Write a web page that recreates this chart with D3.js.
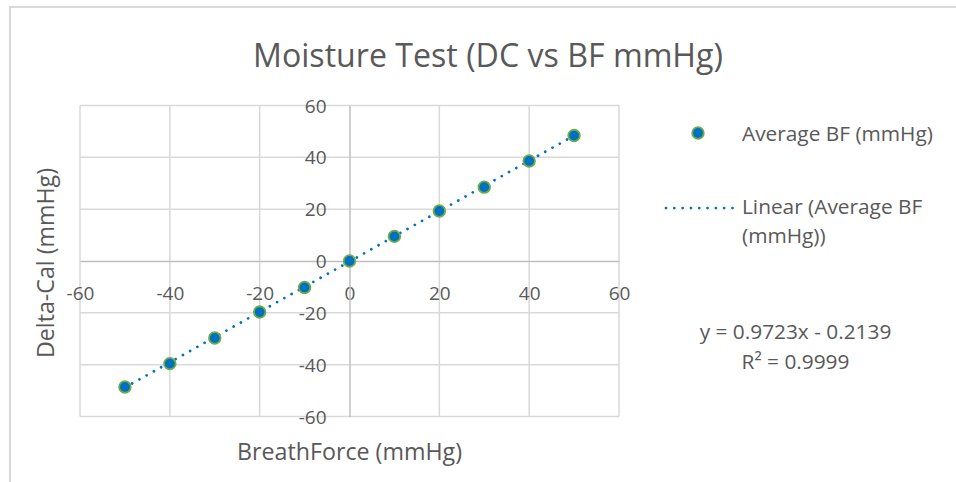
<!DOCTYPE html>
<html>
<head>
<meta charset="utf-8">
<script src="https://cdn.jsdelivr.net/npm/d3@7"></script>
<style>
  html, body { margin: 0; padding: 0; background: #fff; }
  svg { display: block; font-family: "Open Sans", sans-serif; }
</style>
</head>
<body>
<svg id="chart" width="956" height="482"></svg>
<script>
// Breath force readings (mmHg) and the matching delta-cal values
const breathForce = [-50, -40, -30, -20, -10, 0, 10, 20, 30, 40, 50];
const deltaCal    = [-48.6, -39.6, -29.7, -19.7, -10.2, 0.0, 9.5, 19.3, 28.5, 38.6, 48.4];

// Axis ticks
const xTicks = [-60, -40, -20, 0, 20, 40, 60];
const yTicks = [-60, -40, -20, 0, 20, 40, 60];

// Linear trend line coefficients
const trendSlope = 0.9723;
const trendIntercept = -0.2139;
const trendR2 = 0.9999;

const titleText = "Moisture Test (DC vs BF mmHg)";
const xTitle = "BreathForce (mmHg)";
const yTitle = "Delta-Cal (mmHg)";
const seriesName = "Average BF (mmHg)";
const trendNameLines = ["Linear (Average BF", "(mmHg))"];

const textColor = "#595959";
const gridColor = "#d9d9d9";
const axisColor = "#bfbfbf";
const markerFill = "#0070C0";
const markerStroke = "#70AD47";
const trendColor = "#0070C0";

const svg = d3.select("#chart");

// Scale a text element's font size so it spans a given width
function fitWidth(sel, width) {
  const node = sel.node();
  const base = parseFloat(sel.attr("font-size"));
  const w = node.getComputedTextLength();
  sel.attr("font-size", (base * width / w).toFixed(2));
  return sel;
}

// chart frame
svg.append("rect")
  .attr("x", 10).attr("y", 7)
  .attr("width", 1000).attr("height", 600)
  .attr("fill", "#fff")
  .attr("stroke", gridColor).attr("stroke-width", 2);

const x = d3.scaleLinear().domain([-60, 60]).range([80, 619]);
const y = d3.scaleLinear().domain([-60, 60]).range([416.5, 105.5]);

// gridlines
const grid = svg.append("g");
grid.selectAll("line.v").data(xTicks.filter(t => t !== 0)).join("line")
  .attr("x1", d => x(d)).attr("x2", d => x(d))
  .attr("y1", y(60)).attr("y2", y(-60))
  .attr("stroke", gridColor).attr("stroke-width", 1.5);
grid.selectAll("line.h").data(yTicks.filter(t => t !== 0)).join("line")
  .attr("y1", d => y(d)).attr("y2", d => y(d))
  .attr("x1", x(-60)).attr("x2", x(60))
  .attr("stroke", gridColor).attr("stroke-width", 1.5);

// axes crossing at zero
const plain = d => String(d);
const tickSize = 19;
const xAxis = d3.axisBottom(x).tickValues(xTicks).tickFormat(plain).tickSize(0).tickPadding(0);
const yAxis = d3.axisLeft(y).tickValues(yTicks).tickFormat(plain).tickSize(0).tickPadding(0);

const gx = svg.append("g").attr("transform", `translate(0,${y(0)})`).call(xAxis);
gx.select(".domain").attr("stroke", axisColor).attr("stroke-width", 1.5);
gx.selectAll("text")
  .attr("y", 32).attr("dy", "0.35em")
  .attr("fill", textColor)
  .attr("font-size", tickSize)
  .attr("font-family", "Open Sans, sans-serif");

const gy = svg.append("g").attr("transform", `translate(${x(0)},0)`).call(yAxis);
gy.select(".domain").attr("stroke", axisColor).attr("stroke-width", 1.5);
gy.selectAll("text")
  .attr("x", -23).attr("dy", "0.35em")
  .attr("fill", textColor)
  .attr("font-size", tickSize)
  .attr("font-family", "Open Sans, sans-serif");

// trend line across the data range
const xMin = d3.min(breathForce), xMax = d3.max(breathForce);
const trendPts = [xMin, xMax].map(v => [v, trendSlope * v + trendIntercept]);
svg.append("path")
  .attr("d", d3.line().x(d => x(d[0])).y(d => y(d[1]))(trendPts))
  .attr("fill", "none")
  .attr("stroke", trendColor)
  .attr("stroke-width", 2.75)
  .attr("stroke-linecap", "round")
  .attr("stroke-dasharray", "0.01 8.3");

// data markers
svg.append("g").selectAll("circle")
  .data(breathForce.map((v, i) => [v, deltaCal[i]]))
  .join("circle")
  .attr("cx", d => x(d[0])).attr("cy", d => y(d[1]))
  .attr("r", 5.8)
  .attr("fill", markerFill)
  .attr("stroke", markerStroke).attr("stroke-width", 1.8);

// title
fitWidth(svg.append("text")
  .attr("x", 488).attr("y", 67)
  .attr("text-anchor", "middle")
  .attr("fill", textColor)
  .attr("font-size", 28)
  .text(titleText), 470);

// axis titles
fitWidth(svg.append("text")
  .attr("x", 349.5).attr("y", 460)
  .attr("text-anchor", "middle")
  .attr("fill", textColor)
  .attr("font-size", 20)
  .text(xTitle), 225);

fitWidth(svg.append("text")
  .attr("transform", "translate(54,263) rotate(-90)")
  .attr("text-anchor", "middle")
  .attr("fill", textColor)
  .attr("font-size", 20)
  .text(yTitle), 190);

// legend
const legend = svg.append("g");
legend.append("circle")
  .attr("cx", 698).attr("cy", 133).attr("r", 5.8)
  .attr("fill", markerFill)
  .attr("stroke", markerStroke).attr("stroke-width", 1.8);
const seriesLabel = fitWidth(legend.append("text")
  .attr("x", 742).attr("y", 141)
  .attr("fill", textColor).attr("font-size", 20)
  .text(seriesName), 191);
const legSize = +seriesLabel.attr("font-size");
legend.append("line")
  .attr("x1", 666).attr("x2", 733)
  .attr("y1", 208).attr("y2", 208)
  .attr("stroke", trendColor)
  .attr("stroke-width", 2.75)
  .attr("stroke-linecap", "round")
  .attr("stroke-dasharray", "0.01 8.3");
// wrapped trend name, one line per text
const lineGap = Math.ceil(legSize * 1.37);
legend.selectAll("text.trend").data(trendNameLines).join("text")
  .attr("class", "trend")
  .attr("x", 742).attr("y", (d, i) => 214 + i * lineGap)
  .attr("fill", textColor).attr("font-size", legSize)
  .text(d => d);

// regression equation
const sign = trendIntercept < 0 ? "-" : "+";
svg.append("text")
  .attr("x", 795.5).attr("y", 339)
  .attr("text-anchor", "middle")
  .attr("fill", textColor).attr("font-size", legSize)
  .text(`y = ${trendSlope.toFixed(4)}x ${sign} ${Math.abs(trendIntercept).toFixed(4)}`);
svg.append("text")
  .attr("x", 795.5).attr("y", 369)
  .attr("text-anchor", "middle")
  .attr("fill", textColor).attr("font-size", legSize)
  .text(`R² = ${trendR2.toFixed(4)}`);
</script>
</body>
</html>
